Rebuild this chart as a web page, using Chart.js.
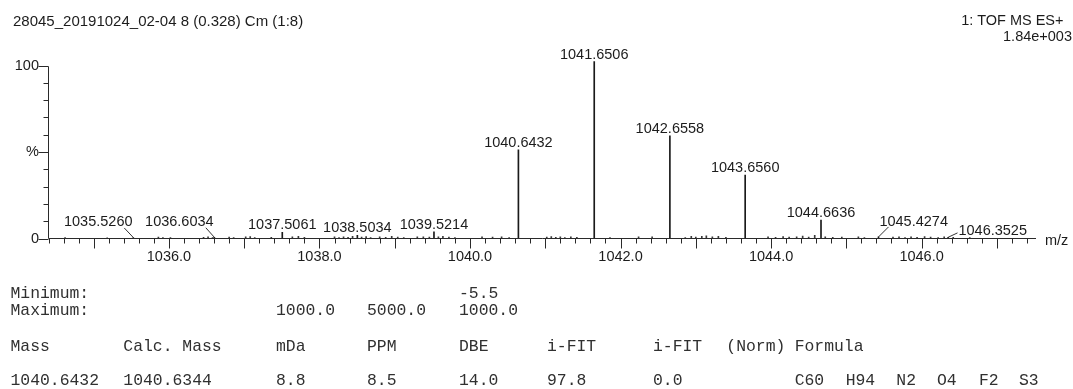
<!DOCTYPE html>
<html>
<head>
<meta charset="utf-8">
<script src="https://cdn.jsdelivr.net/npm/chart.js@4/dist/chart.umd.min.js"></script>
<style>
  html, body { margin: 0; padding: 0; background: #fff; }
  #wrap { position: relative; width: 1073px; height: 389px; overflow: hidden; }
  #c { position: absolute; left: 0; top: 0; }
  .t { position: absolute; white-space: pre; font-family: "Liberation Sans", Arial, sans-serif; font-size: 14.5px; line-height: 17px; color: #1c1c1c; }
  .t.big { font-size: 15px; }
  .m { position: absolute; white-space: pre; font-family: "Liberation Mono", "Courier New", monospace; font-size: 16.4px; line-height: 19px; color: #303030; }
</style>
</head>
<body>
<div id="wrap">
  <canvas id="c" width="1073" height="389"></canvas>
</div>
<script>
// ---------- data ----------
const titleLeft = "28045_20191024_02-04 8 (0.328) Cm (1:8)";
const titleRight1 = "1: TOF MS ES+";
const titleRight2 = "1.84e+003";

const peakMz  = [1035.5260, 1036.6034, 1037.5061, 1038.5034, 1039.5214, 1040.6432, 1041.6506, 1042.6558, 1043.6560, 1044.6636, 1045.4274, 1046.3525];
const peakInt = [0.6, 0.7, 3.6, 1.8, 3.8, 51.2, 102.2, 59.3, 36.7, 10.6, 0.9, 0.7];

const noiseMz  = [1034.62, 1035.18, 1035.86, 1035.92, 1036.02, 1036.46, 1036.52, 1036.58, 1036.80, 1036.86,
                  1037.02, 1037.08, 1037.14, 1037.36, 1037.64, 1037.72, 1037.80, 1038.20, 1038.26, 1038.32,
                  1038.38, 1038.44, 1038.56, 1038.62, 1038.68, 1038.80, 1038.88, 1038.96, 1039.04, 1039.12,
                  1039.30, 1039.38, 1039.46, 1039.58, 1039.64, 1039.72, 1039.80, 1040.16, 1040.30, 1040.42,
                  1040.52, 1041.02, 1041.08, 1041.14, 1041.20, 1041.26, 1041.34, 1041.42, 1041.86, 1042.24,
                  1042.42, 1042.86, 1042.94, 1043.00, 1043.08, 1043.14, 1043.22, 1043.30, 1043.40, 1043.96,
                  1044.06, 1044.16, 1044.24, 1044.34, 1044.42, 1044.50, 1044.58, 1044.72, 1044.82, 1044.94,
                  1045.16, 1045.24, 1045.62, 1045.70, 1045.78, 1045.86, 1045.94, 1046.04, 1046.12, 1046.22,
                  1046.30, 1046.42, 1046.64];
const noiseInt = [0.5, 0.4, 0.8, 0.6, 0.5, 0.7, 0.9, 0.6, 0.8, 0.5,
                  0.9, 1.1, 0.6, 0.7, 0.9, 1.2, 0.7, 0.9, 0.6, 1.0,
                  0.7, 1.3, 0.8, 1.1, 0.6, 0.9, 0.7, 1.2, 0.8, 0.6,
                  0.9, 1.0, 0.8, 1.0, 1.2, 0.8, 0.6, 0.9, 0.8, 1.0,
                  0.6, 0.8, 1.1, 0.7, 1.0, 0.6, 0.9, 0.7, 0.6, 0.9,
                  1.0, 0.6, 1.2, 0.8, 1.3, 1.6, 0.9, 1.2, 0.7, 0.9,
                  0.7, 1.1, 0.8, 1.0, 1.4, 0.8, 1.8, 0.9, 0.7, 0.8,
                  0.9, 0.6, 0.8, 1.0, 0.6, 0.9, 0.7, 1.1, 0.8, 0.6,
                  0.9, 0.7, 0.5];

const xTickLabels = [1036, 1038, 1040, 1042, 1044, 1046];
const yTickValues = [0, 50, 100];
const yTickText   = ["0", "%", "100"];
const xAxisTitle = "m/z";

// table
const tableMinRow  = ["Minimum:", "", "", "", "-5.5"];
const tableMaxRow  = ["Maximum:", "", "1000.0", "5000.0", "1000.0"];
const tableHeaders = ["Mass", "Calc. Mass", "mDa", "PPM", "DBE", "i-FIT", "i-FIT", "(Norm)", "Formula"];
const tableValues  = ["1040.6432", "1040.6344", "8.8", "8.5", "14.0", "97.8", "0.0", "", "C60"];
const formulaRest  = ["H94", "N2", "O4", "F2", "S3"];

// ---------- layout / style (not data) ----------
const colX = [10.5, 123.3, 276, 367, 459, 547, 653, 726.3, 794.7];
const formulaX = [845.7, 896.3, 937, 979, 1019];
const rowTop = [283.5, 300.8, 336.8, 370.8];
const TXT = '#1c1c1c';
const AXIS = '#2a2a2a';
const FONT = '"Liberation Sans", Arial, sans-serif';
// label leaders (pixel offsets) for labels displaced from their peak
const leaders = {
  "1035.5260": {dx: -35,  by: -12.6, lx: -9,   ly: -9.5},
  "1036.6034": {dx: -35,  by: -12.6, lx: -8.5, ly: -9.5},
  "1045.4274": {dx: 35.2, by: -12.6, lx: 10,   ly: -10},
  "1046.3525": {dx: 44.6, by: -4,    lx: 9.4,  ly: -4.4}
};

// ---------- HTML text ----------
const wrap = document.getElementById('wrap');
function addText(cls, txt, left, top, right) {
  if (!txt) return;
  const d = document.createElement('div');
  d.className = cls;
  d.textContent = txt;
  d.style.top = top + 'px';
  if (right !== undefined) d.style.right = right + 'px'; else d.style.left = left + 'px';
  wrap.appendChild(d);
}
addText('t big', titleLeft, 13, 12.0);
addText('t', titleRight1, 0, 12.3, 1073 - 1063.5);
addText('t', titleRight2, 0, 28.2, 1073 - 1072);
tableMinRow.forEach((s, i) => addText('m', s, colX[i], rowTop[0]));
tableMaxRow.forEach((s, i) => addText('m', s, colX[i], rowTop[1]));
tableHeaders.forEach((s, i) => addText('m', s, colX[i], rowTop[2]));
tableValues.forEach((s, i) => addText('m', s, colX[i], rowTop[3]));
formulaRest.forEach((s, i) => addText('m', s, formulaX[i], rowTop[3]));

// ---------- chart ----------
const X_MIN = 1034.40, X_MAX = 1047.52, Y_MAX = 103.18;

const spectrumPlugin = {
  id: 'spectrum',
  afterDatasetsDraw(chart) {
    const {ctx, scales: {x, y}} = chart;
    const y0 = y.getPixelForValue(0);
    const yTop = y.getPixelForValue(100);
    const ax = Math.floor(x.left) + 0.5;
    const ay = Math.floor(y0) + 0.5;
    ctx.save();
    ctx.strokeStyle = AXIS;
    ctx.lineWidth = 1;
    ctx.beginPath();
    // axes lines
    ctx.moveTo(ax, Math.round(yTop) + 0.5); ctx.lineTo(ax, ay);
    ctx.moveTo(ax, ay); ctx.lineTo(x.right, ay);
    // y ticks: every 10, long at 0/50/100
    for (let v = 0; v <= 100; v += 10) {
      const py = Math.round(y.getPixelForValue(v)) + 0.5;
      const len = (v % 50 === 0) ? 10 : 5;
      ctx.moveTo(ax - len, py); ctx.lineTo(ax, py);
    }
    // x ticks: every 0.2, long at integers
    for (let k = Math.ceil(X_MIN * 5); k <= Math.floor(X_MAX * 5); k++) {
      const v = k / 5;
      const px = Math.round(x.getPixelForValue(v)) + 0.5;
      const len = (k % 5 === 0) ? 10 : 5;
      ctx.moveTo(px, ay); ctx.lineTo(px, ay + len);
    }
    ctx.stroke();

    // peak labels
    ctx.font = '14.5px ' + FONT;
    ctx.fillStyle = TXT;
    ctx.textAlign = 'center';
    ctx.textBaseline = 'alphabetic';
    peakMz.forEach((mz, i) => {
      const label = mz.toFixed(4);
      const px = x.getPixelForValue(mz);
      const pt = y.getPixelForValue(peakInt[i]);
      const L = leaders[label];
      if (L) {
        ctx.fillText(label, px + L.dx, y0 + L.by);
        ctx.beginPath();
        ctx.strokeStyle = '#333';
        ctx.moveTo(px, pt);
        ctx.lineTo(px + L.lx, pt + L.ly);
        ctx.stroke();
      } else {
        ctx.fillText(label, px, pt - 3);
      }
    });
    // axis title
    ctx.textAlign = 'left';
    ctx.fillText(xAxisTitle, x.right + 9, y0 + 6.7);
    ctx.restore();
  }
};

new Chart(document.getElementById('c'), {
  type: 'bar',
  data: {
    datasets: [
      {
        data: peakMz.map((m, i) => ({x: m, y: peakInt[i]})),
        backgroundColor: '#1a1a1a',
        barThickness: 1,
        grouped: false,
        borderWidth: 0
      },
      {
        data: noiseMz.map((m, i) => ({x: m, y: noiseInt[i]})),
        backgroundColor: '#3a3a3a',
        barThickness: 1,
        grouped: false,
        borderWidth: 0
      }
    ]
  },
  options: {
    responsive: false,
    animation: false,
    devicePixelRatio: 1,
    layout: {padding: {left: 0, right: 37, top: 60, bottom: 0}},
    plugins: {legend: {display: false}, tooltip: {enabled: false}, title: {display: false}},
    scales: {
      x: {
        type: 'linear',
        min: X_MIN, max: X_MAX,
        offset: false,
        grid: {display: false, drawTicks: false},
        border: {display: false},
        afterBuildTicks: s => { s.ticks = xTickLabels.map(v => ({value: v})); },
        afterFit: s => { s.height = 150.5; },
        ticks: {
          autoSkip: false, maxRotation: 0, padding: 10,
          color: TXT, font: {family: FONT, size: 14.5},
          callback: v => Number(v).toFixed(1)
        }
      },
      y: {
        type: 'linear',
        min: 0, max: Y_MAX,
        grid: {display: false, drawTicks: false},
        border: {display: false},
        afterBuildTicks: s => { s.ticks = yTickValues.map(v => ({value: v})); },
        afterFit: s => { s.width = 48.5; },
        ticks: {
          autoSkip: false, padding: 9.5,
          color: TXT, font: {family: FONT, size: 14.5},
          callback: v => yTickText[yTickValues.indexOf(v)]
        }
      }
    }
  },
  plugins: [spectrumPlugin]
});
</script>
</body>
</html>
